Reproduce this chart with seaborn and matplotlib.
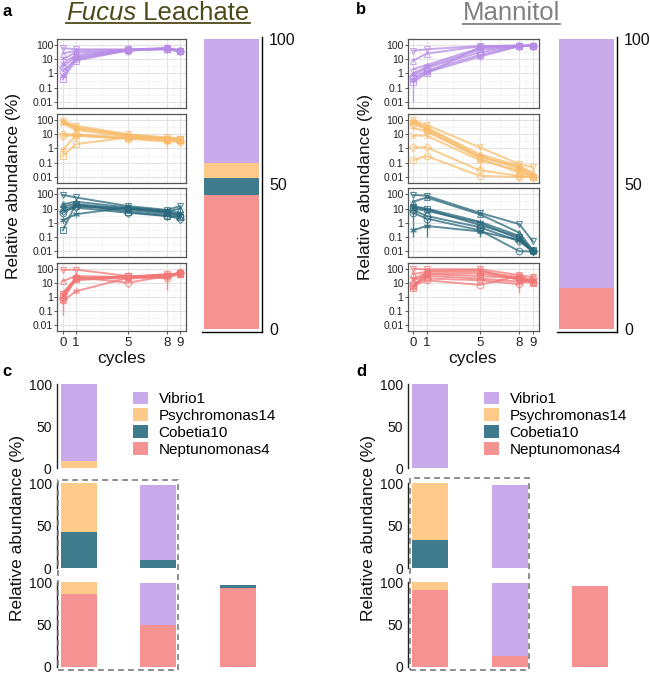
import numpy as np
import pandas as pd
import matplotlib
matplotlib.use('Agg')
import matplotlib.pyplot as plt
import seaborn as sns
from matplotlib.patches import Rectangle, Patch
from matplotlib.lines import Line2D

plt.rcParams['font.family'] = ['Liberation Sans', 'DejaVu Sans']

W, H = 650, 675
fig = plt.figure(figsize=(6.5, 6.75), dpi=100)

# ---------------- data ----------------
cycles = [0, 1, 5, 8, 9]
species = ['Vibrio1', 'Psychromonas14', 'Cobetia10', 'Neptunomonas4']
stack_order = ['Neptunomonas4', 'Cobetia10', 'Psychromonas14', 'Vibrio1']  # bottom -> top

# rows = cycles (0,1,5,8,9); columns = 8 replicate communities
fucus_vibrio = [[60, 25, 10, 5, 3, 1.5, 0.7, 0.4],
                [50, 40, 30, 20, 15, 10, 12, 8],
                [50, 45, 40, 45, 50, 40, 45, 42],
                [60, 55, 60, 50, 55, 60, 55, 50],
                [40, 35, 45, 40, 35, 38, 42, 36]]
fucus_psychro = [[90, 80, 70, 60, 10, 8, 0.8, 0.3],
                 [40, 30, 25, 20, 10, 8, 8, 2],
                 [10, 9, 8, 7, 6, 5, 5, 6],
                 [6, 5, 5, 4, 5, 4, 3, 5],
                 [5, 4, 5, 4, 3, 4, 3, 5]]
fucus_cobetia = [[90, 20, 15, 10, 7, 5, 1.5, 0.3],
                 [60, 30, 20, 15, 12, 15, 4, 20],
                 [15, 12, 10, 8, 5, 10, 12, 6],
                 [8, 6, 5, 4, 3, 6, 7, 3],
                 [15, 10, 4, 3, 2, 3, 5, 2.5]]
fucus_neptuno = [[80, 13, 2, 1.2, 0.8, 0.6, 0.5, 1.5],
                 [85, 30, 20, 15, 25, 18, 2.5, 20],
                 [30, 25, 20, 25, 10, 30, 22, 28],
                 [30, 40, 25, 35, 30, 20, 28, 40],
                 [50, 40, 60, 45, 50, 55, 40, 45]]
mannitol_vibrio = [[40, 8, 2, 1, 0.7, 0.5, 0.35, 0.25],
                   [50, 25, 4, 3, 2.5, 1.6, 1.2, 1.0],
                   [85, 80, 60, 45, 30, 20, 15, 70],
                   [90, 92, 88, 85, 90, 80, 85, 90],
                   [92, 90, 88, 90, 85, 92, 88, 90]]
mannitol_psychro = [[95, 80, 28, 8, 1.2, 0.15, 70, 60],
                    [45, 30, 15, 8, 1.2, 0.3, 25, 20],
                    [1.2, 0.4, 0.25, 0.15, 0.03, 0.012, 0.3, 0.2],
                    [0.08, 0.06, 0.05, 0.03, 0.012, 0.01, 0.04, 0.02],
                    [0.05, 0.02, 0.015, 0.01, 0.01, 0.01, 0.012, 0.01]]
mannitol_cobetia = [[90, 30, 15, 10, 8, 5, 0.3, 12],
                    [80, 60, 10, 7, 3, 2, 0.6, 9],
                    [5, 4, 1.2, 1.0, 0.5, 0.3, 0.25, 0.7],
                    [0.8, 0.2, 0.12, 0.07, 0.05, 0.01, 0.06, 0.1],
                    [0.05, 0.012, 0.01, 0.01, 0.01, 0.01, 0.01, 0.012]]
mannitol_neptuno = [[95, 40, 20, 15, 9, 6, 5, 4],
                    [90, 60, 45, 30, 20, 15, 70, 40],
                    [90, 60, 45, 20, 15, 7, 80, 30],
                    [35, 25, 20, 12, 8, 30, 15, 20],
                    [25, 15, 12, 10, 20, 12, 15, 10]]

# error bars: (panel, line, cycle index, low, high)
error_bars = [('fucus_neptuno', 5, 0, 0.05, 2.0),
              ('fucus_neptuno', 2, 3, 3.0, 40.0),
              ('fucus_psychro', 3, 3, 1.0, 8.0),
              ('fucus_cobetia', 4, 3, 2.0, 5.0),
              ('mannitol_vibrio', 7, 0, 0.01, 1.0),
              ('mannitol_psychro', 3, 2, 0.03, 0.4),
              ('mannitol_cobetia', 6, 0, 0.1, 1.0),
              ('mannitol_cobetia', 3, 0, 1.0, 30.0),
              ('mannitol_cobetia', 6, 1, 0.1, 2.0),
              ('mannitol_cobetia', 5, 2, 0.1, 0.6),
              ('mannitol_neptuno', 4, 3, 2.0, 15.0)]

# final composition (stacked bars, %)
fucus_final = {'Vibrio1': [42.8], 'Psychromonas14': [5.0], 'Cobetia10': [5.9], 'Neptunomonas4': [46.3]}
mannitol_final = {'Vibrio1': [85.9], 'Psychromonas14': [0], 'Cobetia10': [0], 'Neptunomonas4': [14.1]}

# panel c rows (3 bar positions each)
c_row1 = {'Vibrio1': [91.3, 0, 0], 'Psychromonas14': [8.7, 0, 0], 'Cobetia10': [0, 0, 0], 'Neptunomonas4': [0, 0, 0]}
c_row2 = {'Vibrio1': [0, 88.6, 0], 'Psychromonas14': [57.6, 0, 0], 'Cobetia10': [42.4, 9.8, 0], 'Neptunomonas4': [0, 0, 0]}
c_row3 = {'Vibrio1': [0, 49.4, 0], 'Psychromonas14': [14, 0, 0], 'Cobetia10': [0, 0, 3.8], 'Neptunomonas4': [86, 49.4, 93]}
# panel d rows
d_row1 = {'Vibrio1': [100, 0, 0], 'Psychromonas14': [0, 0, 0], 'Cobetia10': [0, 0, 0], 'Neptunomonas4': [0, 0, 0]}
d_row2 = {'Vibrio1': [0, 98, 0], 'Psychromonas14': [66.7, 0, 0], 'Cobetia10': [33.3, 0, 0], 'Neptunomonas4': [0, 0, 0]}
d_row3 = {'Vibrio1': [0, 85.8, 0], 'Psychromonas14': [9.1, 0, 0], 'Cobetia10': [0, 0, 0], 'Neptunomonas4': [90.9, 13, 96]}

ytick_vals = [0.01, 0.1, 1, 10, 100]
ytick_labels = ['0.01', '0.1', '1', '10', '100']

# ---------------- styles ----------------
bar_colors = {'Vibrio1': '#C8A9E9', 'Psychromonas14': '#FDCA8A',
              'Cobetia10': '#407B8D', 'Neptunomonas4': '#F59393'}
line_colors = {'Vibrio1': '#B68CE6', 'Psychromonas14': '#F8BC6A',
               'Cobetia10': '#2A687C', 'Neptunomonas4': '#F27777'}
markers = ['v', '^', '+', 'x', 'D', 'o', (6, 2, 0), 's']
frame_col = '#555555'


def fx(x):
    return x / W


def fy(y):
    return 1 - y / H


def px_axes(x0, y0, x1, y1):
    return fig.add_axes([x0 / W, 1 - y1 / H, (x1 - x0) / W, (y1 - y0) / H])


panels = {'fucus_vibrio': fucus_vibrio, 'fucus_psychro': fucus_psychro,
          'fucus_cobetia': fucus_cobetia, 'fucus_neptuno': fucus_neptuno,
          'mannitol_vibrio': mannitol_vibrio, 'mannitol_psychro': mannitol_psychro,
          'mannitol_cobetia': mannitol_cobetia, 'mannitol_neptuno': mannitol_neptuno}


def small_panel(ax, name, sp, show_x):
    arr = np.array(panels[name], dtype=float)
    nlines = arr.shape[1]
    col = line_colors[sp]
    ax.set_yscale('log')
    for j in range(nlines):
        df = pd.DataFrame({'cycle': cycles, 'abundance': arr[:, j]})
        msize = 3.8 if markers[j] in ('D', 's') else 4.8
        sns.lineplot(data=df, x='cycle', y='abundance', marker=markers[j],
                     color=col, alpha=0.75, linewidth=1.4, markersize=msize,
                     markerfacecolor='none', markeredgecolor=col, markeredgewidth=0.8,
                     legend=False, errorbar=None, ax=ax)
    for (pn, li, ci, lo, hi) in error_bars:
        if pn == name:
            ax.vlines(cycles[ci], lo, hi, color=col, lw=1.0, alpha=0.8)
    ax.set_ylim(0.0038, 263)
    ax.set_xlim(-0.42, 9.45)
    ax.set_yticks(ytick_vals)
    ax.set_yticklabels(ytick_labels)
    ax.set_yticks([10 ** -1.5, 10 ** -0.5, 10 ** 0.5, 10 ** 1.5], minor=True)
    ax.set_yticklabels([], minor=True)
    ax.set_xticks(cycles)
    ax.set_xticks([0.5, 3, 6.5, 8.5], minor=True)
    ax.tick_params(which='minor', length=0)
    ax.tick_params(axis='y', which='major', length=2, width=0.7, color=frame_col,
                   labelsize=7.5, pad=1, labelcolor='#222222')
    if show_x:
        ax.tick_params(axis='x', which='major', length=2, width=0.7, color=frame_col,
                       labelsize=9.5, pad=2, labelcolor='#222222')
        ax.set_xticklabels([str(c) for c in cycles])
    else:
        ax.tick_params(axis='x', which='major', length=0, labelbottom=False)
    ax.grid(which='major', color='#E3E3E3', lw=0.8)
    ax.grid(which='minor', color='#F0F0F0', lw=0.5)
    ax.set_axisbelow(True)
    ax.set_xlabel('')
    ax.set_ylabel('')
    for s in ax.spines.values():
        s.set_color(frame_col)
        s.set_linewidth(0.9)


def stacked(ax, comp, width):
    n = len(comp['Vibrio1'])
    cats = [str(i) for i in range(n)]
    cum = np.zeros(n)
    layers = []
    for sp in stack_order:
        cum = cum + np.array(comp[sp], dtype=float)
        layers.append((sp, cum.copy()))
    for sp, c in reversed(layers):
        sns.barplot(x=cats, y=c, order=cats, color=bar_colors[sp], saturation=1,
                    width=width, errorbar=None, ax=ax, linewidth=0)
    ax.set_xlabel('')
    ax.set_ylabel('')


rows_y = [(39, 108), (114, 183), (188.3, 257.3), (262.7, 331)]
sp_rows = ['Vibrio1', 'Psychromonas14', 'Cobetia10', 'Neptunomonas4']
names_a = ['fucus_vibrio', 'fucus_psychro', 'fucus_cobetia', 'fucus_neptuno']
names_b = ['mannitol_vibrio', 'mannitol_psychro', 'mannitol_cobetia', 'mannitol_neptuno']

for i, (y0, y1) in enumerate(rows_y):
    ax = px_axes(57.3, y0, 186, y1)
    small_panel(ax, names_a[i], sp_rows[i], i == 3)
    ax = px_axes(407.7, y0, 538.7, y1)
    small_panel(ax, names_b[i], sp_rows[i], i == 3)


def final_bar(ax, comp):
    stacked(ax, comp, 0.9)
    ax.set_xlim(-0.488, 0.5)
    ax.set_ylim(-1.03, 100.7)
    ax.yaxis.tick_right()
    ax.set_yticks([0, 50, 100])
    ax.set_yticklabels(['0', '50', '100'])
    ax.tick_params(axis='y', length=0, pad=5, labelsize=11.5, labelcolor='#111111')
    ax.set_xticks([])
    for s in ['left', 'top']:
        ax.spines[s].set_visible(False)
    for s in ['right', 'bottom']:
        ax.spines[s].set_color('black')
        ax.spines[s].set_linewidth(1.0)
    ax.patch.set_visible(False)


final_bar(px_axes(201.7, 37, 262.3, 332.3), fucus_final)
final_bar(px_axes(556.7, 37, 617.3, 332.3), mannitol_final)


def comp_row(ax, comp):
    stacked(ax, comp, 0.45)
    ax.set_xlim(-0.28, 2.53)
    ax.set_ylim(0, 100)
    ax.set_yticks([0, 50, 100])
    ax.set_yticklabels(['0', '50', '100'])
    ax.tick_params(axis='y', length=0, pad=3.5, labelsize=10, labelcolor='#111111')
    ax.set_xticks([])
    for s in ['right', 'top', 'bottom']:
        ax.spines[s].set_visible(False)
    ax.spines['left'].set_color('#222222')
    ax.spines['left'].set_linewidth(1.0)
    ax.patch.set_visible(False)


c_rows_y = [(384.3, 468.3), (483.3, 568), (582.3, 667)]
for (y0, y1), comp in zip(c_rows_y, [c_row1, c_row2, c_row3]):
    comp_row(px_axes(56.5, y0, 280, y1), comp)
for (y0, y1), comp in zip(c_rows_y, [d_row1, d_row2, d_row3]):
    comp_row(px_axes(408, y0, 632, y1), comp)

# dashed boxes
for (x0, y0, x1, y1) in [(58.3, 480, 178.3, 670), (410, 478, 529, 670)]:
    fig.add_artist(Rectangle((fx(x0), fy(y1)), (x1 - x0) / W, (y1 - y0) / H,
                             transform=fig.transFigure, fill=False,
                             edgecolor='#7A7A7A', lw=1.2, ls=(0, (3.5, 2.5))))

# legends
for lx in [133, 484]:
    handles = [Patch(facecolor=bar_colors[s], edgecolor='none', label=s) for s in species]
    fig.legend(handles=handles, loc='upper left', bbox_to_anchor=(fx(lx), fy(391.5)),
               bbox_transform=fig.transFigure, frameon=False, fontsize=11,
               handlelength=0.98, handleheight=0.92, handletextpad=0.7,
               labelspacing=0.15, borderpad=0, borderaxespad=0)

# axis labels
lab_kw = dict(fontsize=12.5, rotation=90, ha='center', va='center', color='#111111')
fig.text(fx(14), fy(186), 'Relative abundance (%)', **lab_kw)
fig.text(fx(365.5), fy(187), 'Relative abundance (%)', **lab_kw)
fig.text(fx(17.5), fy(528), 'Relative abundance (%)', **lab_kw)
fig.text(fx(369), fy(528), 'Relative abundance (%)', **lab_kw)
fig.text(fx(121.6), fy(358), 'cycles', fontsize=12.5, ha='center', va='center', color='#111111')
fig.text(fx(473), fy(358), 'cycles', fontsize=12.5, ha='center', va='center', color='#111111')

# panel letters
for (lx, ly, letter) in [(2.5, 16, 'a'), (356, 14.5, 'b'), (2, 376, 'c'), (356, 376, 'd')]:
    fig.text(fx(lx), fy(ly), letter, fontsize=12, fontweight='bold', ha='left', va='baseline')

# titles with underline
renderer = fig.canvas.get_renderer()
olive = '#4E4A18'
tsize = 18.5
t1 = fig.text(0, fy(19.5), 'Fucus', fontsize=tsize, style='italic', color=olive, ha='left', va='baseline')
t2 = fig.text(0, fy(19.5), '\u00a0Leachate', fontsize=tsize, color=olive, ha='left', va='baseline')
w1 = t1.get_window_extent(renderer).width
w2 = t2.get_window_extent(renderer).width
x_start = 158 - (w1 + w2) / 2
t1.set_x(fx(x_start))
t2.set_x(fx(x_start + w1))
fig.add_artist(Line2D([fx(x_start), fx(x_start + w1 + w2)], [fy(23), fy(23)],
                      transform=fig.transFigure, color=olive, lw=1.3))

t3 = fig.text(fx(511.5), fy(20.5), 'Mannitol', fontsize=tsize, color='#808080', ha='center', va='baseline')
bb = t3.get_window_extent(renderer)
fig.add_artist(Line2D([bb.x0 / W, bb.x1 / W], [fy(24), fy(24)],
                      transform=fig.transFigure, color='#808080', lw=1.3))

fig.savefig('out.png', dpi=100)
